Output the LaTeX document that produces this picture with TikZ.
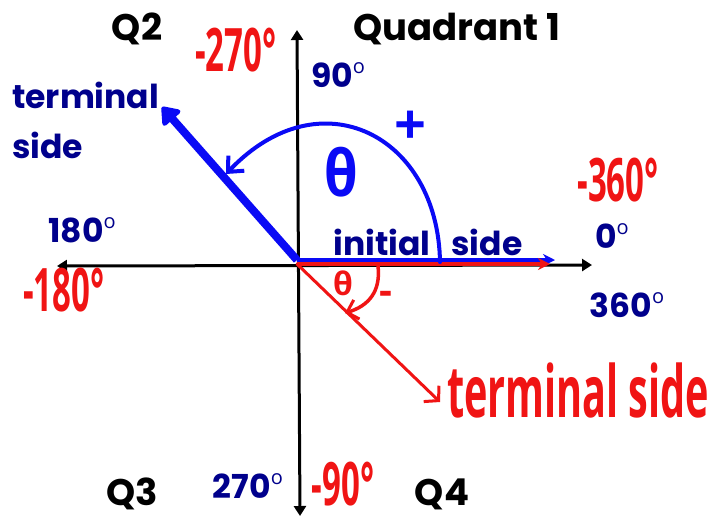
\documentclass[tikz,border=0pt]{standalone}
\usepackage{fontspec}
\setmainfont{Poppins}
\newfontfamily\hand{Open Sans}
\usetikzlibrary{arrows.meta}
\definecolor{navy}{RGB}{0,0,140}
\definecolor{pblue}{RGB}{10,10,245}
\definecolor{pred}{RGB}{240,20,20}
\newcommand{\degsign}{\raisebox{0.42em}{\hand\mdseries\fontsize{20}{20}\selectfont o}}
\begin{document}
\begin{tikzpicture}[x=1pt,y=-1pt,
  blk/.style={font=\fontsize{37}{37}\selectfont\bfseries, text=black, inner sep=0},
  nv/.style={font=\fontsize{33}{33}\selectfont\bfseries, text=navy, inner sep=0},
  hw/.style={font=\hand\bfseries\fontsize{60}{60}\selectfont, text=pred, inner sep=0, xscale=0.55},
  axisline/.style={line width=3pt, {Triangle[length=10pt,width=12pt]}-{Triangle[length=10pt,width=12pt]}},
  barb/.style={-{Straight Barb[length=12pt,width=22pt,line width=4pt]}}]
\useasboundingbox (0,0) rectangle (711,520);
\fill[white] (0,0) rectangle (711,520);
% coordinates
\coordinate (O) at (298,265);
\coordinate (W) at (57,266);
\coordinate (E) at (592,265);
\coordinate (N) at (297,30);
\coordinate (S) at (300,516);
\coordinate (Ob) at (297,260);
\coordinate (Eb) at (555,260);
\coordinate (Or) at (297,264);
\coordinate (Er) at (550,264);
\coordinate (Tb) at (162,107);
\coordinate (Tr) at (440,402);
\coordinate (Ra) at (440,262);
\coordinate (Rb) at (226,174);
\coordinate (ra) at (378,266);
\coordinate (rb) at (345,313);
% axes
\draw[axisline] (W) -- (E);
\draw[axisline] (N) -- (S);
% blue sides
\draw[pblue, line width=8pt, line join=round, -{Triangle[length=18pt,width=26pt,round]}] (Ob) -- (Tb);
\draw[pblue, line width=4pt, -{Stealth[length=12pt,width=12pt]}] (Ob) -- (Eb);
% red sides
\draw[pred, line width=4pt, -{Stealth[length=12pt,width=12pt]}] (Or) -- (Er);
\draw[pred, line width=3pt, line cap=round, -{Straight Barb[length=10pt,width=22pt,line width=3pt]}] (Or) -- (Tr);
% arcs
\draw[pblue, line width=4pt, line cap=round, barb] (Ra) .. controls (438,135) and (320,75) .. (Rb);
\draw[pred, line width=3.5pt, line cap=round, -{Straight Barb[length=10pt,width=20pt,line width=3pt]}] (ra) .. controls (381,292) and (368,306) .. (rb);
% black labels
\node[blk] (q2) at (137,29) {Q2};
\node[blk] (q1) at (457,29) {Quadrant 1};
\node[blk] (q3) at (132,494) {Q3};
\node[blk] (q4) at (442,494) {Q4};
% navy labels
\node[nv] (l90) at (338,75) {90\degsign};
\node[nv, anchor=west] (ts1) at (12,95) {terminal};
\node[nv, anchor=west] (ts2) at (12,145) {side};
\node[nv] (l180) at (82,230) {180\degsign};
\node[nv] (ini) at (382,242) {initial};
\node[nv] (sid) at (487,242) {side};
\node[nv] (l0) at (612,236) {0\degsign};
\node[nv] (l360) at (627,305) {360\degsign};
\node[nv] (l270) at (248,486) {270\degsign};
% blue theta and plus
\node[text=pblue, font=\hand\bfseries\fontsize{64}{64}\selectfont, inner sep=0, xscale=0.85] (thb) at (341,172) {θ};
\node[text=pblue, font=\hand\bfseries\fontsize{56}{56}\selectfont, inner sep=0] (plus) at (410,128) {+};
% red handwritten
\node[hw] (m270) at (236,50) {-270°};
\node[hw] (m360) at (618,180) {-360°};
\node[hw] (m180) at (64,290) {-180°};
\node[hw] (m90) at (343,484) {-90°};
\node[hw, anchor=west, font=\hand\bfseries\fontsize{72}{72}\selectfont] (trs) at (447,390) {terminal side};
\node[text=pred, font=\hand\bfseries\fontsize{32}{32}\selectfont, inner sep=0] (thr) at (343,283) {θ};
\node[text=pred, font=\hand\bfseries\fontsize{40}{40}\selectfont, inner sep=0] (minus) at (386,298) {-};
\end{tikzpicture}
\end{document}
